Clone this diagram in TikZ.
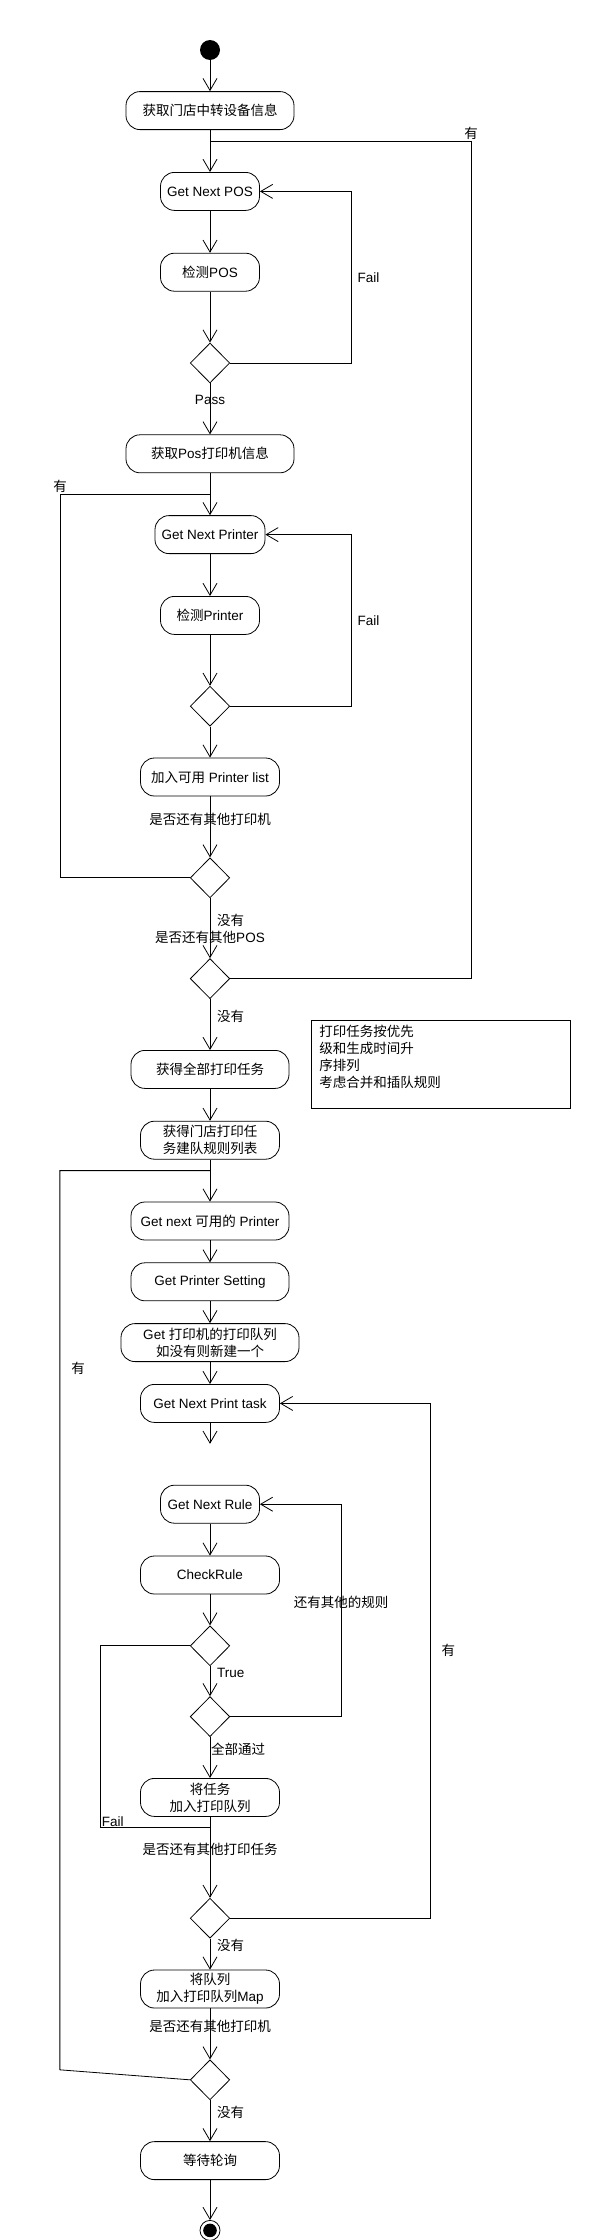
\documentclass[tikz,border=0pt]{standalone}
\usepackage{fontspec}
\setmainfont{Liberation Sans}
\newfontfamily\zhfont{Noto Sans CJK SC}
\newcommand{\zh}[1]{{\zhfont #1}}
\newcommand{\diagfont}{\fontsize{13.5pt}{17pt}\selectfont}
\usepackage{tikz}
\usetikzlibrary{arrows.meta,positioning,shapes.geometric}

\begin{document}
\begin{tikzpicture}[
  act/.style={draw, line width=0.8pt, rounded corners=14pt, align=center, minimum height=38pt, inner sep=2pt, font=\diagfont},
  dec/.style={draw, line width=0.8pt, diamond, minimum width=39.5pt, minimum height=40pt, inner sep=0pt},
  startdot/.style={circle, fill=black, minimum size=20pt, inner sep=0pt},
  enddot/.style={circle, draw, line width=0.8pt, minimum size=20pt, inner sep=0pt, path picture={\fill (path picture bounding box.center) circle (6.8pt);}},
  note/.style={draw, line width=0.8pt, align=left, text width=243pt, inner xsep=8pt, inner ysep=3pt, minimum height=88pt, font=\diagfont\zhfont},
  lbl/.style={inner sep=1pt, font=\diagfont},
  wire/.style={line width=0.8pt, draw=black},
  arrow/.style={wire, -{Straight Barb[length=12pt, width=14pt]}}
]
\useasboundingbox (0,0) rectangle (590pt,-2240pt);

% main column
\node[startdot] (init) at (210pt,-50pt) {};
\node[act, minimum width=168pt, below=31pt of init] (devinfo) {\zh{获取门店中转设备信息}};
\node[act, minimum width=99pt, below=42pt of devinfo] (nextpos) {Get Next POS};
\node[act, minimum width=99pt, below=42pt of nextpos] (checkpos) {\zh{检测}POS};
\node[dec, below=51pt of checkpos] (posok) {};
\node[act, minimum width=168pt, below=51pt of posok] (prinfo) {\zh{获取}Pos\zh{打印机信息}};
\node[act, minimum width=110pt, below=42pt of prinfo] (nextpr) {Get Next Printer};
\node[act, minimum width=99pt, below=42pt of nextpr] (checkpr) {\zh{检测}Printer};
\node[dec, below=51pt of checkpr] (prok) {};
\node[act, minimum width=139pt, below=31pt of prok] (addpr) {\zh{加入可用} Printer list};
\node[dec, below=61pt of addpr] (morepr) {};
\node[dec, below=60pt of morepr] (morepos) {};
\node[act, minimum width=158pt, below=51pt of morepos] (alltask) {\zh{获得全部打印任务}};
\node[note, right=21.5pt of alltask, yshift=5pt] (sortnote) {打印任务按优先\\级和生成时间升\\序排列\\考虑合并和插队规则\\\mbox{}};
\node[act, minimum width=139pt, below=32pt of alltask] (rulelist) {\zh{获得门店打印任}\\\zh{务建队规则列表}};
\node[act, minimum width=158pt, below=42pt of rulelist] (nextavail) {Get next \zh{可用的} Printer};
\node[act, minimum width=158pt, below=22pt of nextavail] (prset) {Get Printer Setting};
\node[act, minimum width=178pt, below=22pt of prset] (getqueue) {Get \zh{打印机的打印队列}\\\zh{如没有则新建一个}};
\node[act, minimum width=139pt, below=22pt of getqueue] (nexttask) {Get Next Print task};
\node[act, minimum width=99pt, below=62pt of nexttask] (nextrule) {Get Next Rule};
\node[act, minimum width=139pt, below=32pt of nextrule] (checkrule) {CheckRule};
\node[dec, below=31pt of checkrule] (ruleok) {};
\node[dec, below=30pt of ruleok] (morerule) {};
\node[act, minimum width=139pt, below=41pt of morerule] (enqueue) {\zh{将任务}\\\zh{加入打印队列}};
\node[dec, below=81pt of enqueue] (moretask) {};
\node[act, minimum width=139pt, below=31pt of moretask] (addmap) {\zh{将队列}\\\zh{加入打印队列}Map};
\node[dec, below=51pt of addmap] (moreprq) {};
\node[act, minimum width=139pt, below=41pt of moreprq] (wait) {\zh{等待轮询}};
\node[enddot, below=40pt of wait] (final) {};

% where the loops come back
\coordinate (posjoin) at ([yshift=-11pt]devinfo.south);
\coordinate (prjoin) at ([yshift=-21pt]prinfo.south);
\coordinate (availjoin) at ([yshift=-11pt]rulelist.south);
\coordinate (failjoin) at ([yshift=-11pt]enqueue.south);
\coordinate (taskgap) at ([yshift=-21pt]nexttask.south);

\draw[arrow] (init) -- (devinfo);
\draw[arrow] (devinfo) -- (nextpos);
\draw[arrow] (nextpos) -- (checkpos);
\draw[arrow] (checkpos) -- (posok);
\draw[arrow] (posok) -- (prinfo);
\draw[arrow] (prinfo) -- (nextpr);
\draw[arrow] (nextpr) -- (checkpr);
\draw[arrow] (checkpr) -- (prok);
\draw[arrow] (prok) -- (addpr);
\draw[arrow] (addpr) -- (morepr);
\draw[arrow] (morepr) -- (morepos);
\draw[arrow] (morepos) -- (alltask);
\draw[arrow] (alltask) -- (rulelist);
\draw[arrow] (rulelist) -- (nextavail);
\draw[arrow] (nextavail) -- (prset);
\draw[arrow] (prset) -- (getqueue);
\draw[arrow] (getqueue) -- (nexttask);
\draw[arrow] (nexttask) -- (taskgap);
\draw[arrow] (nextrule) -- (checkrule);
\draw[arrow] (checkrule) -- (ruleok);
\draw[arrow] (ruleok) -- (morerule);
\draw[arrow] (morerule) -- (enqueue);
\draw[arrow] (enqueue) -- (moretask);
\draw[arrow] (moretask) -- (addmap);
\draw[arrow] (addmap) -- (moreprq);
\draw[arrow] (moreprq) -- (wait);
\draw[arrow] (wait) -- (final);

% loops
\draw[wire] (morepos.east) -| ([xshift=261pt]posjoin) node[lbl, above] (yes1) {\zh{有}} -- (posjoin);
\draw[arrow] (posok.east) -- ++(121pt,0) |- node[lbl, pos=0.25, right=5pt] (fail1) {Fail} (nextpos.east);
\draw[arrow] (prok.east) -- ++(121pt,0) |- node[lbl, pos=0.25, right=5pt] (fail2) {Fail} (nextpr.east);
\draw[wire] (morepr.west) -| ([xshift=-150pt]prjoin) node[lbl, above] (yes2) {\zh{有}} -- (prjoin);
\draw[arrow] (morerule.east) -- ++(111pt,0) |- node[lbl, pos=0.27] (morerulelbl) {\zh{还有其他的规则}} (nextrule.east);
\draw[wire] (ruleok.west) -| ([xshift=-109.5pt]failjoin) node[lbl, above right] (fail3) {Fail} -- (failjoin);
\draw[arrow] (moretask.east) -- ++(200pt,0) |- node[lbl, pos=0.26, right=10pt] (yes3) {\zh{有}} (nexttask.east);
\draw[wire] (moreprq.west) -- ++(-130pt,10pt) coordinate (slant) -- node[lbl, pos=0.78, right=10pt] (yes4) {\zh{有}} (slant |- availjoin) -- (availjoin);

% labels on the main line
\node[lbl] (pass) at ([yshift=-17pt]posok.south) {Pass};
\node[lbl] (askpr) at ([yshift=-23pt]addpr.south) {\zh{是否还有其他打印机}};
\node[lbl, anchor=west] (no1) at ([xshift=6pt, yshift=-22pt]morepr.south) {\zh{没有}};
\node[lbl] (askpos) at ([yshift=21pt]morepos.north) {\zh{是否还有其他}POS};
\node[lbl, anchor=west] (no2) at ([xshift=6pt, yshift=-17pt]morepos.south) {\zh{没有}};
\node[lbl, anchor=west] (true) at ([xshift=6pt, yshift=-7pt]ruleok.south) {True};
\node[lbl, anchor=west] (allpass) at ([yshift=-12pt]morerule.south) {\zh{全部通过}};
\node[lbl] (asktask) at ([yshift=-33pt]enqueue.south) {\zh{是否还有其他打印任务}};
\node[lbl, anchor=west] (no3) at ([xshift=6pt, yshift=-7pt]moretask.south) {\zh{没有}};
\node[lbl] (askprq) at ([yshift=-18pt]addmap.south) {\zh{是否还有其他打印机}};
\node[lbl, anchor=west] (no4) at ([xshift=6pt, yshift=-12pt]moreprq.south) {\zh{没有}};
\end{tikzpicture}
\end{document}
